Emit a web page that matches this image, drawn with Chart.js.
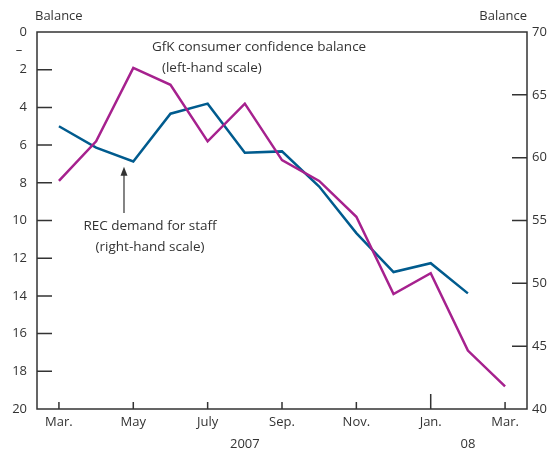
<!DOCTYPE html>
<html lang="en">
<head>
<meta charset="UTF-8">
<title>GfK consumer confidence and REC demand for staff</title>
<script src="https://cdn.jsdelivr.net/npm/chart.js"></script>
<style>
    body { margin: 0; background: #fff; }
    #caja { width: 555px; height: 450px; position: relative; }
</style>
</head>
<body>
<div id="caja"><canvas id="grafico"></canvas></div>
<script>
// months Mar 2007 .. Mar 2008, x = index
const meses = ["Mar.", "Apr.", "May", "June", "July", "Aug.", "Sep.", "Oct.", "Nov.", "Dec.", "Jan.", "Feb.", "Mar."];
const mesesConTick = [0, 2, 4, 6, 8, 10, 12];
const anios = ["2007", "08"];
const aniosPos = [5, 11];
// GfK balance (negative, left-hand scale, inverted)
const gfk = [-7.9, -5.8, -1.9, -2.8, -5.8, -3.8, -6.8, -7.9, -9.8, -13.9, -12.8, -16.9, -18.8];
// REC demand for staff (right-hand scale)
const rec = [62.5, 60.8, 59.7, 63.5, 64.3, 60.4, 60.5, 57.7, 54.0, 50.9, 51.6, 49.2];

const colorTexto = "#333333";
const fuente = "'Open Sans', sans-serif";
Chart.defaults.font.family = fuente;
Chart.defaults.font.size = 13;
Chart.defaults.color = colorTexto;

const decoracion = {
    id: "decoracion",
    afterDatasetsDraw(chart) {
        const ctx = chart.ctx;
        const a = chart.chartArea;
        const x = chart.scales.x, y = chart.scales.y, y1 = chart.scales.y1;
        ctx.save();
        ctx.strokeStyle = colorTexto;
        ctx.lineWidth = 1.5;
        ctx.strokeRect(a.left, a.top, a.right - a.left, a.bottom - a.top);
        ctx.beginPath();
        for (let v = -2; v >= -18; v -= 2) {
            const py = y.getPixelForValue(v);
            ctx.moveTo(a.left, py); ctx.lineTo(a.left + 15, py);
        }
        for (let v = 45; v <= 65; v += 5) {
            const py = y1.getPixelForValue(v);
            ctx.moveTo(a.right - 15, py); ctx.lineTo(a.right, py);
        }
        mesesConTick.forEach(m => {
            const px = x.getPixelForValue(m);
            const largo = meses[m] === "Jan." ? 15 : 7;
            ctx.moveTo(px, a.bottom); ctx.lineTo(px, a.bottom - largo);
        });
        ctx.stroke();

        ctx.fillStyle = colorTexto;
        ctx.font = "13px " + fuente;
        ctx.textBaseline = "middle";
        ctx.textAlign = "center";
        ctx.fillText("\u2013", a.left - 18, y.getPixelForValue(-0.95));
        ctx.textAlign = "left";
        ctx.fillText("Balance", a.left - 2, 16);
        ctx.textAlign = "right";
        ctx.fillText("Balance", a.right, 16);

        ctx.font = "13.5px " + fuente;
        ctx.textAlign = "left";
        ctx.fillText("GfK consumer confidence balance", x.getPixelForValue(2.5), y.getPixelForValue(-0.8));
        ctx.fillText("(left-hand scale)", x.getPixelForValue(2.77), y.getPixelForValue(-1.9));
        ctx.textAlign = "center";
        ctx.fillText("REC demand for staff", x.getPixelForValue(2.45), y.getPixelForValue(-10.3));
        ctx.fillText("(right-hand scale)", x.getPixelForValue(2.45), y.getPixelForValue(-11.4));

        // arrow
        const ax = x.getPixelForValue(1.75);
        const yBase = y.getPixelForValue(-9.6), yPunta = y.getPixelForValue(-7.15);
        ctx.lineWidth = 1.2;
        ctx.beginPath();
        ctx.moveTo(ax, yBase); ctx.lineTo(ax, yPunta + 6);
        ctx.stroke();
        ctx.beginPath();
        ctx.moveTo(ax, yPunta); ctx.lineTo(ax - 3.5, yPunta + 9); ctx.lineTo(ax + 3.5, yPunta + 9);
        ctx.closePath();
        ctx.fill();
        ctx.restore();
    }
};

const sinRejilla = { display: false, drawTicks: false };

new Chart(document.getElementById("grafico"), {
    type: "line",
    data: {
        datasets: [
            {
                label: "GfK consumer confidence balance",
                data: gfk.map((v, i) => ({ x: i, y: v })),
                borderColor: "#a6218e",
                borderWidth: 2.5,
                pointRadius: 0,
                yAxisID: "y",
                tension: 0
            },
            {
                label: "REC demand for staff",
                data: rec.map((v, i) => ({ x: i, y: v })),
                borderColor: "#005b8e",
                borderWidth: 2.5,
                pointRadius: 0,
                yAxisID: "y1",
                tension: 0
            }
        ]
    },
    options: {
        responsive: true,
        maintainAspectRatio: false,
        animation: false,
        layout: { padding: { top: 32, left: 0, right: 0, bottom: 0 } },
        plugins: { legend: { display: false }, tooltip: { enabled: false } },
        scales: {
            x: {
                type: "linear", position: "bottom", weight: 0,
                min: -0.59, max: 12.59,
                grid: sinRejilla, border: { display: false },
                afterBuildTicks: s => { s.ticks = mesesConTick.map(v => ({ value: v })); },
                afterFit: s => { s.height = 22; },
                ticks: { padding: 5, maxRotation: 0, autoSkip: false, callback: v => meses[v] }
            },
            x2: {
                type: "linear", position: "bottom", weight: 1,
                min: -0.59, max: 12.59,
                grid: sinRejilla, border: { display: false },
                afterBuildTicks: s => { s.ticks = aniosPos.map(v => ({ value: v })); },
                afterFit: s => { s.height = 19; },
                ticks: { padding: 5, maxRotation: 0, autoSkip: false, callback: (v, i) => anios[i] }
            },
            y: {
                position: "left", min: -20, max: 0,
                grid: sinRejilla, border: { display: false },
                afterFit: s => { s.width = 37; },
                ticks: { stepSize: 2, padding: 10, callback: v => Math.abs(v) }
            },
            y1: {
                position: "right", min: 40, max: 70,
                grid: sinRejilla, border: { display: false },
                afterFit: s => { s.width = 28; },
                ticks: { stepSize: 5, padding: 5 }
            }
        }
    },
    plugins: [decoracion]
});
</script>
</body>
</html>
